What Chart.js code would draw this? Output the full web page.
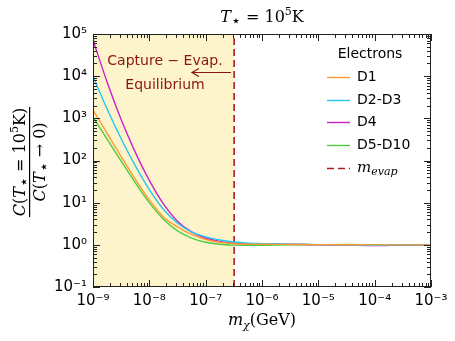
<!DOCTYPE html>
<html>
<head>
<meta charset="utf-8">
<script src="https://cdn.jsdelivr.net/npm/chart.js@4/dist/chart.umd.min.js"></script>
<style>
  html, body { margin: 0; padding: 0; background: #fff; }
  #wrap { width: 455px; height: 341px; }
</style>
</head>
<body>
<div id="wrap"><canvas id="chart"></canvas></div>
<script>
// ============================================
// Data
// ============================================

// dark matter mass in GeV
const massGeV = [1e-9, 1.78e-9, 3.16e-9, 5.62e-9, 1e-8, 1.78e-8, 3.16e-8, 5.62e-8,
                 1e-7, 1.78e-7, 3.16e-7, 5.62e-7, 1e-6, 3.16e-6, 1e-5, 3.16e-5,
                 1e-4, 3.16e-4, 1e-3];

// capture ratio C(T=1e5 K) / C(T->0)
const ratioD1    = [1586, 437.5, 123.3, 36.3, 11.6, 4.6, 2.66, 1.76, 1.34, 1.15, 1.063,
                    1.04, 1.03, 1.02, 1.01, 1.005, 1.0, 1.0, 1.0];
const ratioD2D3  = [9773, 1664, 328, 75.3, 20.5, 6.98, 3.25, 2.035, 1.54, 1.30, 1.17,
                    1.10, 1.07, 1.04, 1.01, 0.99, 0.98, 0.995, 1.0];
const ratioD4    = [72400, 7245, 934, 157.7, 33.7, 9.32, 3.63, 2.02, 1.45, 1.21, 1.10,
                    1.065, 1.05, 1.03, 1.0, 0.98, 0.96, 0.99, 1.0];
const ratioD5D10 = [1072, 321, 96.5, 29.9, 10.0, 4.02, 2.135, 1.45, 1.15, 1.03, 0.985,
                    0.975, 0.98, 1.0, 1.01, 1.02, 1.007, 1.0, 1.0];

const seriesLabels = ['D1', 'D2-D3', 'D4', 'D5-D10'];
const mEvap = 3.2e-7;

const xTickExps = [-9, -8, -7, -6, -5, -4, -3];
const xTickLabels = ['10⁻⁹', '10⁻⁸', '10⁻⁷', '10⁻⁶', '10⁻⁵', '10⁻⁴', '10⁻³'];
const yTickExps = [-1, 0, 1, 2, 3, 4, 5];
const yTickLabels = ['10⁻¹', '10⁰', '10¹', '10²', '10³', '10⁴', '10⁵'];

// ============================================
// Styles
// ============================================

const COLORS = {
    d1: '#ff9a30',
    d23: '#22c8f2',
    d4: '#cc22cc',
    d510: '#4ccc44',
    evap: '#a81c1c',
    note: '#8b1414',
    shade: '#fdf4cb',
    frame: '#222'
};

const SERIF = '"DejaVu Serif", serif';
const SANS = '"DejaVu Sans", sans-serif';
const STAR = '⋆';

function toPoints(values) {
    return massGeV.map((m, i) => ({ x: m, y: values[i] }));
}

function lineDataset(label, values, color) {
    return {
        label: label,
        data: toPoints(values),
        borderColor: color,
        backgroundColor: color,
        borderWidth: 1.4,
        pointRadius: 0,
        cubicInterpolationMode: 'monotone',
        fill: false
    };
}

function tickLabel(exps, labels) {
    return function (value) {
        const e = Math.log10(value);
        const r = Math.round(e);
        if (Math.abs(e - r) > 1e-6) return '';
        const i = exps.indexOf(r);
        return i >= 0 ? labels[i] : '';
    };
}

// draw a row of text pieces with different fonts / offsets
function drawRuns(ctx, runs, x, y, align) {
    let total = 0;
    runs.forEach(r => { ctx.font = r.font; total += ctx.measureText(r.t).width; });
    let cx = align === 'center' ? x - total / 2 : x;
    ctx.textAlign = 'left';
    ctx.textBaseline = 'alphabetic';
    runs.forEach(r => {
        ctx.font = r.font;
        ctx.fillText(r.t, cx, y + (r.dy || 0));
        cx += ctx.measureText(r.t).width;
    });
}

// ============================================
// Plugins
// ============================================

const shadePlugin = {
    id: 'shade',
    beforeDatasetsDraw(chart) {
        const { ctx, chartArea: a, scales: { x } } = chart;
        const xe = x.getPixelForValue(mEvap);
        ctx.save();
        ctx.fillStyle = COLORS.shade;
        ctx.fillRect(a.left, a.top, xe - a.left, a.height);
        ctx.restore();
    }
};

const framePlugin = {
    id: 'frame',
    afterDatasetsDraw(chart) {
        const { ctx, chartArea: a, scales: { x, y } } = chart;
        ctx.save();
        ctx.strokeStyle = COLORS.frame;
        ctx.lineWidth = 1;
        ctx.beginPath();
        for (let e = -9; e <= -3; e++) {
            for (let k = 1; k <= 9; k++) {
                if (e === -3 && k > 1) break;
                const px = Math.round(x.getPixelForValue(k * Math.pow(10, e))) + 0.5;
                const len = k === 1 ? 7 : 4;
                ctx.moveTo(px, a.bottom); ctx.lineTo(px, a.bottom - len);
                ctx.moveTo(px, a.top); ctx.lineTo(px, a.top + len);
            }
        }
        for (let e = -1; e <= 5; e++) {
            for (let k = 1; k <= 9; k++) {
                if (e === 5 && k > 1) break;
                const py = Math.round(y.getPixelForValue(k * Math.pow(10, e))) + 0.5;
                const len = k === 1 ? 7 : 4;
                ctx.moveTo(a.left, py); ctx.lineTo(a.left + len, py);
                ctx.moveTo(a.right, py); ctx.lineTo(a.right - len, py);
            }
        }
        ctx.stroke();
        ctx.strokeRect(Math.round(a.left) + 0.5, Math.round(a.top) + 0.5,
                       Math.round(a.width) - 1, Math.round(a.height) - 1);
        ctx.restore();
    }
};

const textPlugin = {
    id: 'texts',
    afterDraw(chart) {
        const { ctx, chartArea: a } = chart;
        ctx.save();
        ctx.fillStyle = '#000';

        // title
        const cx = (a.left + a.right) / 2;
        drawRuns(ctx, [
            { t: 'T', font: 'italic 16px ' + SERIF },
            { t: STAR, font: '16px ' + SERIF, dy: 4 },
            { t: ' = 10', font: '16px ' + SERIF },
            { t: '5', font: '11px ' + SERIF, dy: -7 },
            { t: 'K', font: '16px ' + SERIF }
        ], cx, 22, 'center');

        // x axis label
        drawRuns(ctx, [
            { t: 'm', font: 'italic 16px ' + SERIF },
            { t: 'χ', font: 'italic 11px ' + SERIF, dy: 4 },
            { t: '(GeV)', font: '16px ' + SERIF }
        ], cx, 325, 'center');

        // y axis label as a fraction
        ctx.translate(30, 162);
        ctx.rotate(-Math.PI / 2);
        drawRuns(ctx, [
            { t: 'C', font: 'italic 16px ' + SERIF },
            { t: '(', font: '16px ' + SERIF },
            { t: 'T', font: 'italic 16px ' + SERIF },
            { t: STAR, font: '16px ' + SERIF, dy: 4 },
            { t: ' = 10', font: '16px ' + SERIF },
            { t: '5', font: '11px ' + SERIF, dy: -7 },
            { t: 'K)', font: '16px ' + SERIF }
        ], 0, -5, 'center');
        drawRuns(ctx, [
            { t: 'C', font: 'italic 16px ' + SERIF },
            { t: '(', font: '16px ' + SERIF },
            { t: 'T', font: 'italic 16px ' + SERIF },
            { t: STAR, font: '16px ' + SERIF, dy: 4 },
            { t: ' → 0)', font: '16px ' + SERIF }
        ], 0, 15, 'center');
        ctx.fillRect(-55, -1, 110, 1.2);
        ctx.restore();

        // annotation inside shaded region
        ctx.save();
        ctx.fillStyle = COLORS.note;
        ctx.font = '14px ' + SANS;
        ctx.textAlign = 'center';
        ctx.textBaseline = 'middle';
        ctx.fillText('Capture − Evap.', 165, 61);
        ctx.fillText('Equilibrium', 165, 85);
        ctx.strokeStyle = COLORS.note;
        ctx.lineWidth = 1.2;
        ctx.beginPath();
        ctx.moveTo(231, 72.5); ctx.lineTo(192, 72.5);
        ctx.moveTo(199, 68.5); ctx.lineTo(192, 72.5); ctx.lineTo(199, 76.5);
        ctx.stroke();
        ctx.restore();

        // legend
        ctx.save();
        ctx.fillStyle = '#000';
        ctx.font = '14px ' + SANS;
        ctx.textAlign = 'center';
        ctx.textBaseline = 'middle';
        ctx.fillText('Electrons', 370, 54);
        ctx.textAlign = 'left';
        const rows = [77, 100, 122, 145, 168];
        chart.data.datasets.forEach((ds, i) => {
            const yy = rows[i] + 0.5;
            ctx.strokeStyle = ds.borderColor;
            ctx.lineWidth = ds.borderDash ? 1.6 : 1.4;
            ctx.setLineDash(ds.borderDash || []);
            ctx.beginPath();
            ctx.moveTo(327, yy); ctx.lineTo(350, yy);
            ctx.stroke();
            ctx.setLineDash([]);
            ctx.fillStyle = '#000';
            if (ds.label === 'm_evap') {
                drawRuns(ctx, [
                    { t: 'm', font: 'italic 15px ' + SERIF },
                    { t: 'evap', font: 'italic 11px ' + SERIF, dy: 3 }
                ], 357, rows[i] + 4, 'left');
            } else {
                ctx.font = '14px ' + SANS;
                ctx.textBaseline = 'middle';
                ctx.fillText(ds.label, 357, rows[i]);
            }
        });
        ctx.restore();
    }
};

// ============================================
// Chart
// ============================================

const datasets = [
    lineDataset(seriesLabels[0], ratioD1, COLORS.d1),
    lineDataset(seriesLabels[1], ratioD2D3, COLORS.d23),
    lineDataset(seriesLabels[2], ratioD4, COLORS.d4),
    lineDataset(seriesLabels[3], ratioD5D10, COLORS.d510),
    {
        label: 'm_evap',
        data: [{ x: mEvap, y: 0.1 }, { x: mEvap, y: 1e5 }],
        borderColor: COLORS.evap,
        borderWidth: 1.6,
        borderDash: [7, 4],
        pointRadius: 0,
        fill: false
    }
];

const tickFont = { family: SANS, size: 15 };

new Chart(document.getElementById('chart'), {
    type: 'line',
    data: { datasets: datasets },
    plugins: [shadePlugin, framePlugin, textPlugin],
    options: {
        responsive: true,
        maintainAspectRatio: false,
        animation: false,
        devicePixelRatio: 1,
        layout: { padding: { top: 34, right: 24, left: 0, bottom: 0 } },
        plugins: {
            legend: { display: false },
            tooltip: { enabled: false },
            title: { display: false }
        },
        scales: {
            x: {
                type: 'logarithmic',
                min: 1e-9,
                max: 1e-3,
                grid: { display: false, drawTicks: false },
                border: { display: false },
                ticks: {
                    autoSkip: false,
                    maxRotation: 0,
                    padding: 5,
                    color: '#000',
                    font: tickFont,
                    callback: tickLabel(xTickExps, xTickLabels)
                },
                afterFit: s => { s.height = 54; }
            },
            y: {
                type: 'logarithmic',
                min: 0.1,
                max: 1e5,
                grid: { display: false, drawTicks: false },
                border: { display: false },
                ticks: {
                    autoSkip: false,
                    padding: 6,
                    color: '#000',
                    font: tickFont,
                    callback: tickLabel(yTickExps, yTickLabels)
                },
                afterFit: s => { s.width = 93; }
            }
        }
    }
});
</script>
</body>
</html>
